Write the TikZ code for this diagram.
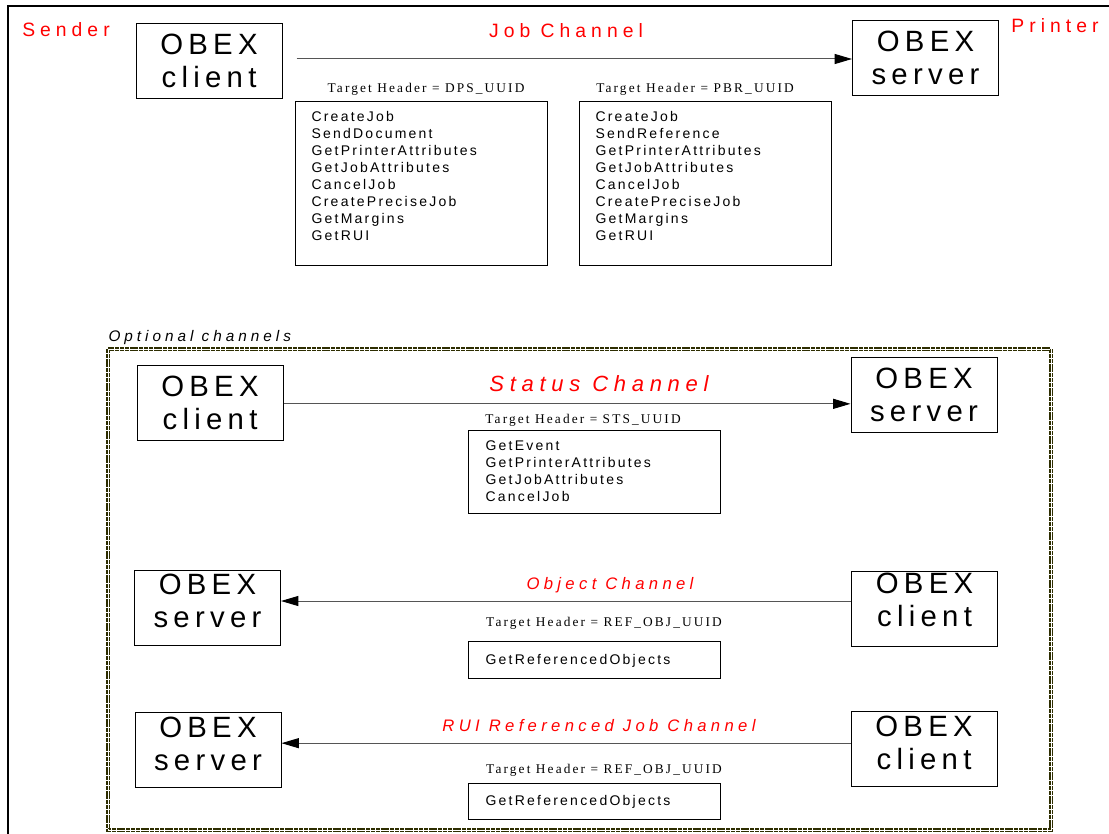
\documentclass[tikz,border=0pt]{standalone}
\usepackage{fontspec}
\setmainfont{Liberation Sans}
\newfontfamily\obexfont[LetterSpace=18]{Liberation Sans}
\newfontfamily\labelfont[LetterSpace=26]{Liberation Sans}
\newfontfamily\listfont[LetterSpace=16]{Liberation Sans}
\newfontfamily\hdrfont[LetterSpace=16]{Liberation Serif}
\usetikzlibrary{arrows.meta}

\definecolor{chanred}{RGB}{255,0,0}
\definecolor{optolive}{RGB}{45,45,0}
\definecolor{arrowgray}{RGB}{85,85,85}

\tikzset{every picture/.style={line width=0.75pt}}
\tikzset{
  obexbox/.style={draw, minimum width=109.5pt, minimum height=56.25pt, inner sep=0pt, align=center,
    font=\obexfont\fontsize{22}{24.75}\selectfont},
  listbox/.style={draw, anchor=north west, inner sep=0pt, minimum width=189pt},
  listtext/.style={anchor=north west, inner sep=0pt, align=left, font=\listfont\fontsize{10.5}{12.75}\selectfont},
  hdrtext/.style={anchor=base, inner sep=0pt, font=\hdrfont\fontsize{10}{11}\selectfont},
  sidelabel/.style={anchor=base, inner sep=0pt, text=chanred, font=\labelfont\fontsize{14.5}{17}\selectfont},
  chanlabel/.style={anchor=base, inner sep=0pt, text=chanred, font=\labelfont\itshape\fontsize{16.5}{19}\selectfont},
  smallchan/.style={chanlabel, font=\labelfont\itshape\fontsize{12.5}{15}\selectfont},
  msgarrow/.style={draw=arrowgray, -{Triangle[length=13pt,width=7.5pt,color=black]}},
  optframe/.style={draw=optolive, line width=1.6pt, double=white, double distance=0.4pt, dash pattern=on 3pt off 0.6pt},
}

\begin{document}
\begin{tikzpicture}[x=0.75pt,y=0.75pt,yscale=-1,xscale=1]
    \useasboundingbox (0,0) rectangle (1109,834);

    %Outer frame
    \draw [line width=1.5pt]  (8,834) -- (8,6) -- (1109,6) ;
    %Optional channels frame
    \draw [optframe]  (108,349) rectangle (1051,830) ;

    % Text Node
    \node [sidelabel] (sender) at (66,37) {Sender};
    % Text Node
    \node [sidelabel] (printer) at (1055,33) {Printer};

    %Job channel
    \node [obexbox] (jobclient) at (209,61) {OBEX\\client};
    \node [obexbox] (jobserver) at (925.5,58) {OBEX\\server};
    \coordinate (jobstart) at ([xshift=10.5pt,yshift=-1.5pt]jobclient.east);
    \draw [msgarrow]  (jobstart) -- (jobstart -| jobserver.west) ;
    \node [sidelabel] (jobchan) at (566,38) {Job Channel};

    %Shape: Rectangle
    \node [listbox, minimum height=123pt] (dpsbox) at (295,101) {};
    \node [hdrtext] (dpshdr) at (426,93) {Target Header = DPS\_UUID};
    \node [listtext] (dpslist) at (311,111) {CreateJob\\SendDocument\\GetPrinterAttributes\\GetJobAttributes\\CancelJob\\CreatePreciseJob\\GetMargins\\GetRUI};

    %Shape: Rectangle
    \node [listbox, minimum height=123pt] (pbrbox) at (579,101) {};
    \node [hdrtext] (pbrhdr) at (695,93) {Target Header = PBR\_UUID};
    \node [listtext] (pbrlist) at (595,111) {CreateJob\\SendReference\\GetPrinterAttributes\\GetJobAttributes\\CancelJob\\CreatePreciseJob\\GetMargins\\GetRUI};

    % Text Node
    \node [anchor=base west, inner sep=0pt, font=\labelfont\itshape\fontsize{11.5}{14}\selectfont] (optlabel) at (108,341) {Optional channels};

    %Status channel
    \node [obexbox] (stsclient) at (210,402.5) {OBEX\\client};
    \node [obexbox] (stsserver) at (924,395) {OBEX\\server};
    \draw [msgarrow]  ([yshift=1pt]stsclient.east) -- ([yshift=1pt]stsclient.east -| stsserver.west) ;
    \node [chanlabel] (stschan) at (599,391) {Status Channel};
    \node [hdrtext] (stshdr) at (583,423) {Target Header = STS\_UUID};
    \node [listbox, minimum height=62.25pt] (stsbox) at (468,430) {};
    \node [listtext] (stslist) at (485,440) {GetEvent\\GetPrinterAttributes\\GetJobAttributes\\CancelJob};

    %Object channel
    \node [obexbox, text depth=10.5pt] (objserver) at (207.5,608) {OBEX\\server};
    \node [obexbox, text depth=13.5pt] (objclient) at (924.5,609) {OBEX\\client};
    \draw [msgarrow]  ([yshift=-6pt]objclient.west) -- ([yshift=-6pt]objclient.west -| objserver.east) ;
    \node [smallchan] (objchan) at (610,589) {Object Channel};
    \node [hdrtext] (objhdr) at (604,626) {Target Header = REF\_OBJ\_UUID};
    \node [listbox, minimum height=27.75pt] (objbox) at (468,641) {};
    \node [listtext, anchor=base west] (objlist) at (485,664) {GetReferencedObjects};

    %RUI referenced job channel
    \node [obexbox, text depth=9pt] (ruiserver) at (208,750) {OBEX\\server};
    \node [obexbox, text depth=9pt] (ruiclient) at (924,748.5) {OBEX\\client};
    \draw [msgarrow]  ([yshift=-4pt]ruiclient.west) -- ([yshift=-4pt]ruiclient.west -| ruiserver.east) ;
    \node [smallchan] (ruichan) at (599,731) {RUI Referenced Job Channel};
    \node [hdrtext] (ruihdr) at (604,773) {Target Header = REF\_OBJ\_UUID};
    \node [listbox, minimum height=27pt] (ruibox) at (468,783) {};
    \node [listtext, anchor=base west] (ruilist) at (485,805) {GetReferencedObjects};

\end{tikzpicture}
\end{document}
